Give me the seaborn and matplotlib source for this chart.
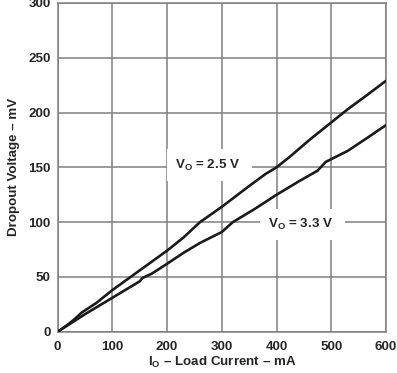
import matplotlib
matplotlib.use("Agg")
import matplotlib.pyplot as plt
import seaborn as sns
import pandas as pd

# %% data

i_25 = [0, 20, 32, 44, 70, 100, 150, 200, 230, 260, 300, 350, 380, 400, 425, 460, 500, 515, 530, 560, 600]
v_25 = [0, 7, 12, 17.5, 26, 38, 56, 74, 86, 100, 114, 133, 144, 150, 160, 175, 191, 197, 203, 214, 229]

i_33 = [0, 25, 50, 100, 150, 155, 172, 200, 230, 260, 300, 320, 360, 400, 440, 475, 490, 530, 560, 600]
v_33 = [0, 8, 16, 31, 46, 49, 53, 62, 72, 81, 91, 100, 112, 125, 137, 147, 155, 165, 175, 188.5]

x_ticks = [0, 100, 200, 300, 400, 500, 600]
y_ticks = [0, 50, 100, 150, 200, 250, 300]

df = pd.concat([
    pd.DataFrame({'Io': i_25, 'Vdo': v_25, 'Vo': '2.5 V'}),
    pd.DataFrame({'Io': i_33, 'Vdo': v_33, 'Vo': '3.3 V'}),
])

# %% style

sns.set_style("white")
plt.rcParams['font.family'] = ['Liberation Sans', 'DejaVu Sans']
plt.rcParams['font.weight'] = 'bold'
plt.rcParams['mathtext.fontset'] = 'custom'
plt.rcParams['mathtext.rm'] = 'Liberation Sans:bold'
plt.rcParams['mathtext.it'] = 'Liberation Sans:bold'
plt.rcParams['mathtext.bf'] = 'Liberation Sans:bold'

fig = plt.figure(figsize=(3.97, 3.73), dpi=100)
ax = fig.add_axes([0.1453, 0.1107, 0.8270, 0.8813])

sns.lineplot(data=df, x='Io', y='Vdo', hue='Vo', palette=['#1a1a1a', '#1a1a1a'],
             linewidth=1.9, legend=False, ax=ax, zorder=5)

ax.set_xlim(0, 600)
ax.set_ylim(0, 300)
ax.set_xticks(x_ticks)
ax.set_yticks(y_ticks)
ax.tick_params(length=0, labelsize=9.6, pad=5)
ax.tick_params(axis='x', pad=7)
for lab in ax.get_xticklabels() + ax.get_yticklabels():
    lab.set_fontweight('bold')

ax.grid(True, color='#808080', linewidth=1.1)
for s in ax.spines.values():
    s.set_color('#808080')
    s.set_linewidth(1.1)

ax.set_xlabel('I$_\\mathrm{O}$ – Load Current – mA', fontsize=9.6, fontweight='bold', labelpad=1)
ax.set_ylabel('Dropout Voltage – mV', fontsize=9.6, fontweight='bold', labelpad=6)

box = dict(facecolor='white', edgecolor='none', pad=6)
ax.text(214, 152, 'V$_\\mathrm{O}$ = 2.5 V  ', fontsize=9.6, fontweight='bold',
        ha='left', va='center', bbox=box, zorder=4)
ax.text(384, 98, 'V$_\\mathrm{O}$ = 3.3 V  ', fontsize=9.6, fontweight='bold',
        ha='left', va='center', bbox=box, zorder=4)

fig.savefig('out.png', dpi=100)
